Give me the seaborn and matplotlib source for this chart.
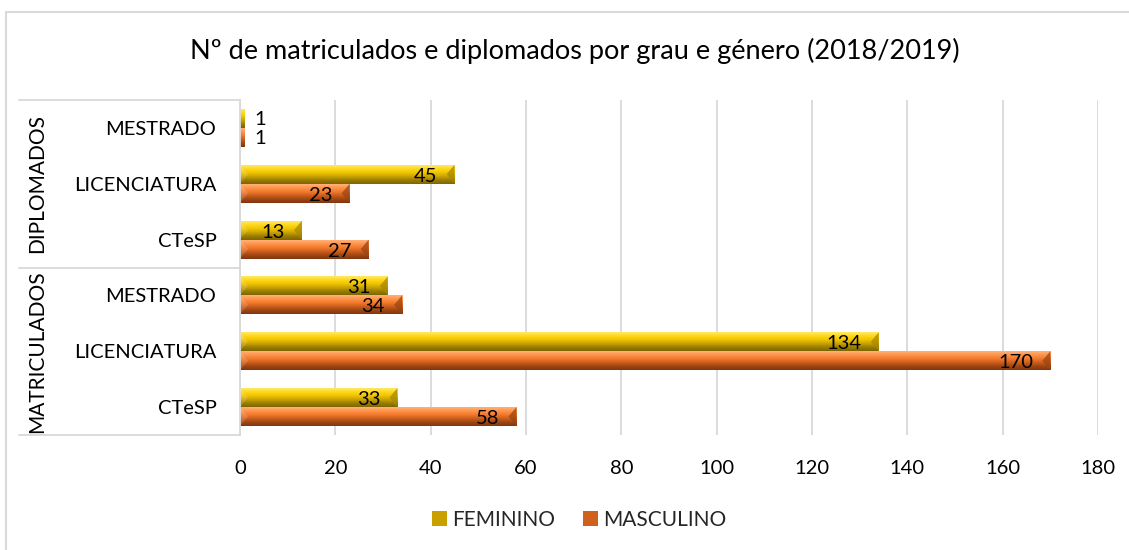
import numpy as np
import pandas as pd
import matplotlib
matplotlib.use("Agg")
import matplotlib.pyplot as plt
import seaborn as sns
from matplotlib.colors import to_rgb
from matplotlib.patches import Rectangle, Polygon, Patch
import matplotlib.transforms as mtransforms

# ---- data ----
grupos = ["DIPLOMADOS", "DIPLOMADOS", "DIPLOMADOS",
          "MATRICULADOS", "MATRICULADOS", "MATRICULADOS"]
graus = ["MESTRADO", "LICENCIATURA", "CTeSP",
         "MESTRADO", "LICENCIATURA", "CTeSP"]
feminino = [1, 45, 13, 31, 134, 33]
masculino = [1, 23, 27, 34, 170, 58]
generos = ["FEMININO", "MASCULINO"]
xticks = [0, 20, 40, 60, 80, 100, 120, 140, 160, 180]
titulo = "Nº de matriculados e diplomados por grau e género (2018/2019)"

sns.set_theme(style="white")
plt.rcParams['font.family'] = ['Lato', 'DejaVu Sans']

keys = [f"{g}|{c}" for g, c in zip(grupos, graus)]
df = pd.DataFrame({
    "key": keys * 2,
    "genero": [generos[0]] * len(keys) + [generos[1]] * len(keys),
    "valor": feminino + masculino,
})

W, H = 1129, 550
fig = plt.figure(figsize=(W / 100, H / 100), dpi=100)
fig.patch.set_facecolor("white")
ax = fig.add_axes([240 / W, 1 - 435 / H, 858 / W, 335 / H])

base = {"FEMININO": "#E6B800", "MASCULINO": "#EE7830"}
sns.barplot(data=df, y="key", x="valor", hue="genero", order=keys,
            hue_order=generos, palette=base, orient="h", width=0.68,
            dodge=True, ax=ax, legend=False, saturation=1)

ax.set_xlim(0, 180)
xlim = ax.get_xlim()
ylim = ax.get_ylim()

grad = {
    "FEMININO": ["#FFE866", "#FFD81A", "#F0C400", "#C9A300", "#9C7E00", "#7E6500"],
    "MASCULINO": ["#FFB07A", "#FF9448", "#F27A2E", "#CC5E1C", "#A04614", "#80360E"],
}
endc = {"FEMININO": "#A88800", "MASCULINO": "#9A4414"}

px_per_unit = 858 / 180.0
d = 8 / px_per_unit
fs = 14.5

for cont, gen in zip(ax.containers, generos):
    cols = np.array([to_rgb(c) for c in grad[gen]])
    n = 40
    t = np.linspace(0, 1, n)
    xs = np.linspace(0, 1, len(cols))
    img = np.stack([np.interp(t, xs, cols[:, k]) for k in range(3)], axis=1)
    img = img[:, None, :]
    for rect in cont:
        x0, y0 = rect.get_x(), rect.get_y()
        w, h = rect.get_width(), rect.get_height()
        im = ax.imshow(img, extent=(x0, x0 + w, y0 + h, y0), origin="upper",
                       aspect="auto", zorder=2, interpolation="bilinear")
        im.set_clip_path(rect)
        rect.set_edgecolor("none")
        if w > 2 * d:
            tri = Polygon([(x0 + w - d, y0 + h / 2), (x0 + w, y0), (x0 + w, y0 + h)],
                          closed=True, facecolor=endc[gen], alpha=0.75,
                          edgecolor="none", zorder=3)
            ax.add_patch(tri)
            tri2 = Polygon([(x0 + d, y0 + h / 2), (x0, y0), (x0, y0 + h)],
                           closed=True, facecolor="white", alpha=0.15,
                           edgecolor="none", zorder=3)
            ax.add_patch(tri2)
        val = w
        yc = y0 + h / 2
        if val < 5:
            off = mtransforms.offset_copy(ax.transData, fig=fig, x=10, y=-1, units="dots")
            ax.text(x0 + w, yc, f"{int(round(val))}", transform=off, ha="left",
                    va="center", fontsize=fs, color="black", zorder=5)
        else:
            off = mtransforms.offset_copy(ax.transData, fig=fig, x=-17, y=-2, units="dots")
            ax.text(x0 + w, yc, f"{int(round(val))}", transform=off, ha="right",
                    va="center", fontsize=fs, color="black", zorder=5)

ax.set_xlim(xlim)
ax.set_ylim(ylim)

ax.set_xticks(xticks)
ax.set_xticklabels([str(v) for v in xticks], fontsize=fs, color="black")
ax.set_yticks(range(len(keys)))
ax.set_yticklabels(graus, fontsize=fs, color="black")
ax.tick_params(axis="y", length=0, pad=17)
ax.tick_params(axis="x", length=0, pad=18)
ax.set_xlabel("")
ax.set_ylabel("")
ax.xaxis.grid(True, color="#D9D9D9", linewidth=1.3)
ax.set_axisbelow(True)
for s in ["top", "right", "bottom"]:
    ax.spines[s].set_visible(False)
ax.spines["left"].set_color("#D9D9D9")
ax.spines["left"].set_linewidth(1.3)

# multi-level category separators and group labels
blend = mtransforms.blended_transform_factory(ax.transAxes, ax.transData)
xleft = (19 - 240) / 858
for yb in [-0.5, 2.5, 5.5]:
    ax.plot([xleft, 0], [yb, yb], transform=blend, color="#D9D9D9",
            linewidth=1.3, clip_on=False)
xg = (37 - 240) / 858
grp_names = []
for g in grupos:
    if g not in grp_names:
        grp_names.append(g)
for g in grp_names:
    idx = [i for i, gg in enumerate(grupos) if gg == g]
    ax.text(xg, np.mean(idx), g, transform=blend, rotation=90, ha="center",
            va="center", fontsize=15, color="black")

# title
fig.text(575 / W, 1 - 51 / H, titulo, ha="center", va="center", fontsize=19.5, color="black")

# legend
handles = [Patch(facecolor="#C9A000", edgecolor="none"),
           Patch(facecolor="#D0601E", edgecolor="none")]
leg = fig.legend(handles, generos, loc="center", bbox_to_anchor=(579 / W, 1 - 520 / H),
                 ncol=2, frameon=False, fontsize=15, handlelength=0.7,
                 handleheight=0.7, handletextpad=0.25, columnspacing=1.35)

# chart border
fig.patches.append(Rectangle((6 / W, -0.5), 2, 1.5 - 12 / H, transform=fig.transFigure,
                             fill=False, edgecolor="#D9D9D9", linewidth=1.5))

fig.savefig("out.png", dpi=100, facecolor="white")
